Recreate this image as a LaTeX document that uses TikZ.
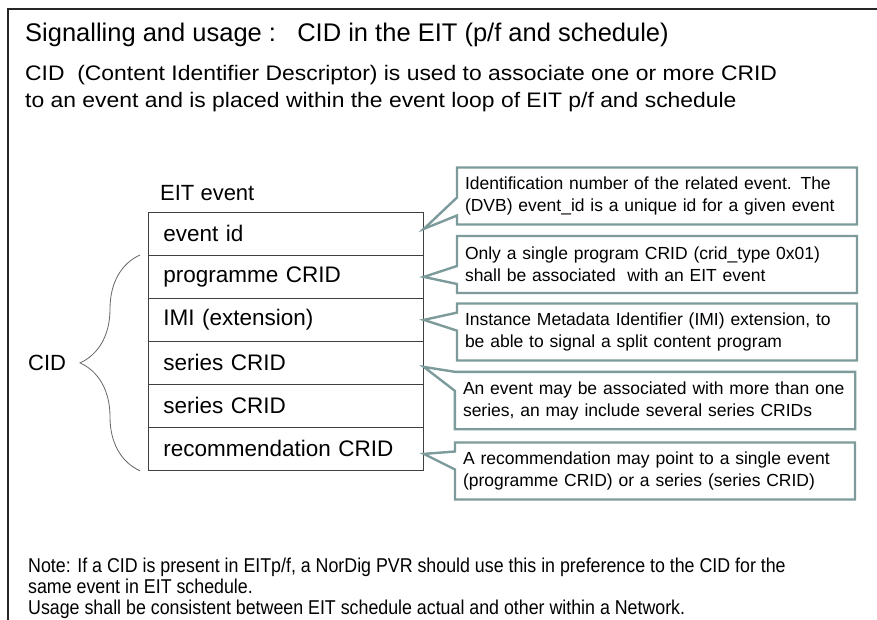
\documentclass[tikz,border=0pt]{standalone}
\usepackage{fontspec}
\setmainfont{Liberation Sans}
\newfontfamily\widefont[FakeStretch=1.09]{Liberation Sans}
\newfontfamily\narrowfont[FakeStretch=0.89]{Liberation Sans}
\usetikzlibrary{calc}
\usetikzlibrary{shapes.callouts}
\usetikzlibrary{decorations.pathreplacing}
\definecolor{notegray}{RGB}{125,155,155}

\begin{document}
\begin{tikzpicture}[x=1pt, y=-1pt]
            \tikzstyle{txt} = [anchor=west, inner sep=0pt, align=left]
            \tikzstyle{cell} = [draw=black!75, line width=0.8pt, anchor=north west, minimum height=43pt, text width=245pt, inner xsep=15pt, inner ysep=0pt, align=left, font=\fontsize{22.5}{26}\selectfont]
            \tikzstyle{notebox} = [rectangle, text width=384pt, inner xsep=8pt, inner ysep=0pt, minimum height=57pt, align=left, font=\fontsize{17.5}{22}\selectfont]
            \tikzstyle{remark} = [notebox, rectangle callout, draw=notegray, line width=2.4pt, fill=white, callout pointer width=18pt]
            \tikzstyle{curly} = [decorate, decoration={brace, amplitude=60pt}, draw=black!60, line width=0.8pt]
            \useasboundingbox (0, 0) rectangle (877, 620);
            \draw[line width=2pt, black!85] (877, 9) -| (8, 620);

            \node[txt, font=\fontsize{25.5}{30}\selectfont] (title) at (25, 35) {Signalling and usage :\ \ \ CID in the EIT (p/f and schedule)};
            \node[txt, font=\fontsize{21}{27}\widefont] (intro) at (25, 88.5) {CID\ \ (Content Identifier Descriptor) is used to associate one or more CRID\\to an event and is placed within the event loop of EIT p/f and schedule};

            \node[txt, font=\fontsize{22}{26}\selectfont] (eitlabel) at (160, 193) {EIT event};
            \node[cell] (evid) at (148, 212) {event id};
            \node[cell] (progcrid) at (148, 255) {programme CRID};
            \node[cell] (imi) at (148, 298) {IMI (extension)};
            \node[cell] (series1) at (148, 341) {series CRID};
            \node[cell] (series2) at (148, 384) {series CRID};
            \node[cell] (reccrid) at (148, 427) {recommendation CRID};

            \draw[curly] ($(reccrid.south west) + (-8, 0)$) -- ($(progcrid.north west) + (-8, 0)$);
            \node[txt, font=\fontsize{22}{26}\selectfont] (cid) at (28, 363) {CID};

            \node[remark, callout absolute pointer={($(evid.east) + (0, -5)$)}] (idnote) at (657, 196) {Identification number of the related event. The\\(DVB) event\_id is a unique id for a given event};
            \node[remark, callout absolute pointer={(progcrid.east)}] (prognote) at (657, 264.5) {Only a single program CRID (crid\_type 0x01)\\shall be associated\ \ with an EIT event};
            \node[remark, callout absolute pointer={(imi.east)}] (iminote) at (657, 332) {Instance Metadata Identifier (IMI) extension, to\\be able to signal a split content program};
            \node[notebox] (seriesnote) at (655, 400.5) {An event may be associated with more than one\\series, an may include several series CRIDs};
            \coordinate (seriestip) at ($(series1.east) + (0, 4)$);
            \draw[draw=notegray, line width=2.4pt] (seriesnote.north west) -- (seriestip) -- ($(seriesnote.north west) + (0, 19)$) -- (seriesnote.south west) -- (seriesnote.south east) -- (seriesnote.north east) -- cycle;
            \node[remark, callout absolute pointer={($(reccrid.east) + (0, 5)$)}] (recnote) at (655, 471) {A recommendation may point to a single event\\(programme CRID) or a series (series CRID)};

            \node[txt, font=\fontsize{20}{21}\narrowfont] (note) at (28, 588) {Note: If a CID is present in EITp/f, a NorDig PVR should use this in preference to the CID for the\\same event in EIT schedule.\\Usage shall be consistent between EIT schedule actual and other within a Network.};
        \end{tikzpicture}
\end{document}
